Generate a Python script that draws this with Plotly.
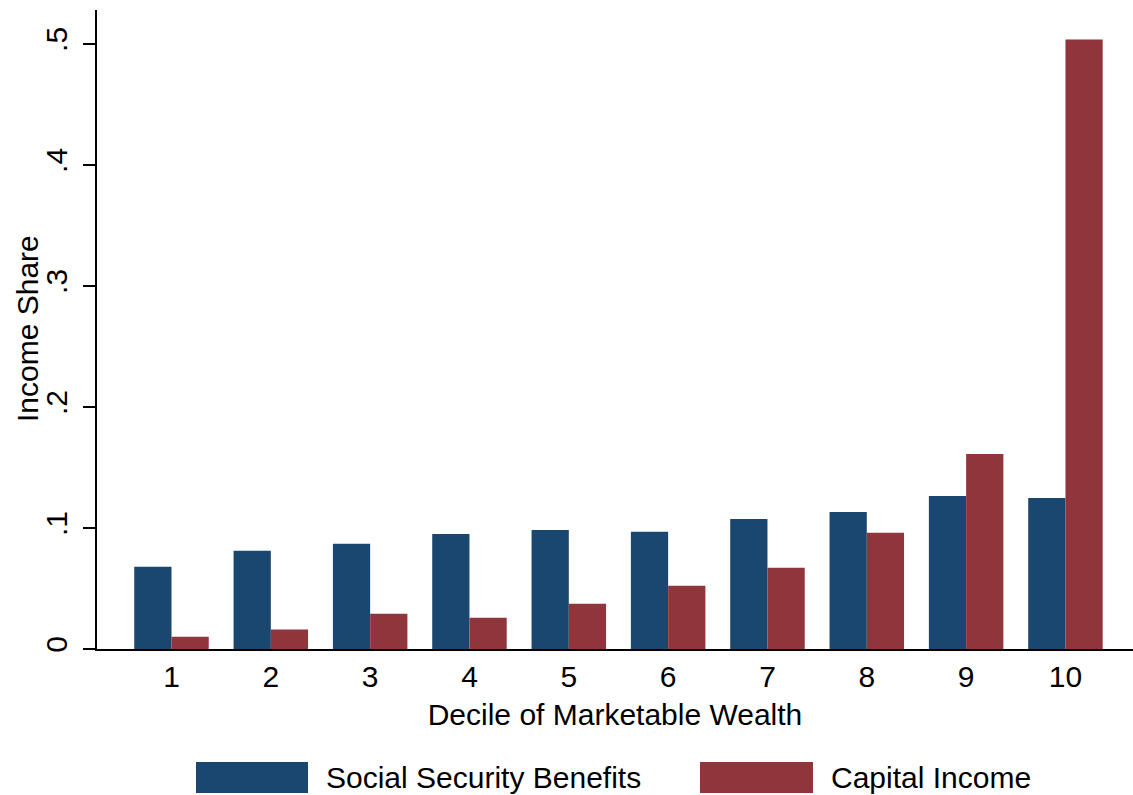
import plotly.graph_objects as go

deciles = [1, 2, 3, 4, 5, 6, 7, 8, 9, 10]
social_security = [0.0679, 0.0811, 0.0869, 0.0951, 0.0984, 0.0968, 0.1075, 0.1133, 0.1265, 0.1248]
capital_income = [0.0101, 0.0162, 0.0291, 0.0258, 0.0374, 0.0522, 0.0671, 0.0960, 0.1612, 0.5036]
y_ticks = [0, 0.1, 0.2, 0.3, 0.4, 0.5]
y_tick_labels = ["0", ".1", ".2", ".3", ".4", ".5"]
series_names = ["Social Security Benefits", "Capital Income"]
colors = ["#1a476f", "#90353b"]

FONT = "Liberation Sans, Arial, Helvetica, sans-serif"
FS = 30

fig = go.Figure()
fig.add_trace(go.Bar(x=deciles, y=social_security, name=series_names[0],
                     marker=dict(color=colors[0], line=dict(width=0)), showlegend=False))
fig.add_trace(go.Bar(x=deciles, y=capital_income, name=series_names[1],
                     marker=dict(color=colors[1], line=dict(width=0)), showlegend=False))

W, H = 1133, 795
ml, mr, mt, mb = 97, 0, 10, 146

fig.update_layout(
    width=W, height=H,
    margin=dict(l=ml, r=mr, t=mt, b=mb, pad=0),
    paper_bgcolor="white", plot_bgcolor="white",
    barmode="group", bargap=0.25, bargroupgap=0,
    font=dict(family=FONT, size=FS, color="black"),
    xaxis=dict(
        range=[0.25, 10.68], tickmode="array", tickvals=deciles,
        ticktext=[str(d) for d in deciles],
        showline=True, linecolor="black", linewidth=2,
        ticks="", showgrid=False, zeroline=False,
        tickfont=dict(size=FS), ticklabelstandoff=0,
        title=dict(text="Decile of Marketable Wealth", font=dict(size=FS), standoff=12),
    ),
    yaxis=dict(
        range=[0, 0.528], tickmode="array", tickvals=y_ticks, ticktext=y_tick_labels,
        showline=True, linecolor="black", linewidth=2,
        ticks="outside", ticklen=12, tickwidth=1.5, tickcolor="black",
        tickangle=-90, showgrid=False, zeroline=False,
        tickfont=dict(size=FS), ticklabelstandoff=4,
    ),
)

def px_x(x):
    return (x - ml) / (W - ml - mr)

def px_y(y):
    return (H - mb - y) / (H - mt - mb)

# Y-axis title
fig.add_annotation(xref="paper", yref="paper", x=px_x(27), y=px_y(329),
                   text="Income Share", textangle=-90, showarrow=False,
                   xanchor="center", yanchor="middle",
                   font=dict(family=FONT, size=FS, color="black"))

# Legend drawn in paper space (big Stata-style keys)
legend_items = [(196, 308, 327), (700, 813, 832)]
for (x0, x1, xt), name, col in zip(legend_items, series_names, colors):
    fig.add_shape(type="rect", xref="paper", yref="paper",
                  x0=px_x(x0), x1=px_x(x1), y0=px_y(793), y1=px_y(762),
                  fillcolor=col, line=dict(width=0))
    fig.add_annotation(xref="paper", yref="paper", x=px_x(xt - 3), y=px_y(777.5),
                       text=name, showarrow=False, xanchor="left", yanchor="middle",
                       font=dict(family=FONT, size=FS, color="black"))

fig.write_html("out.html", config={"displayModeBar": False},
               post_script="document.body.style.margin='0';document.body.style.padding='0';")
